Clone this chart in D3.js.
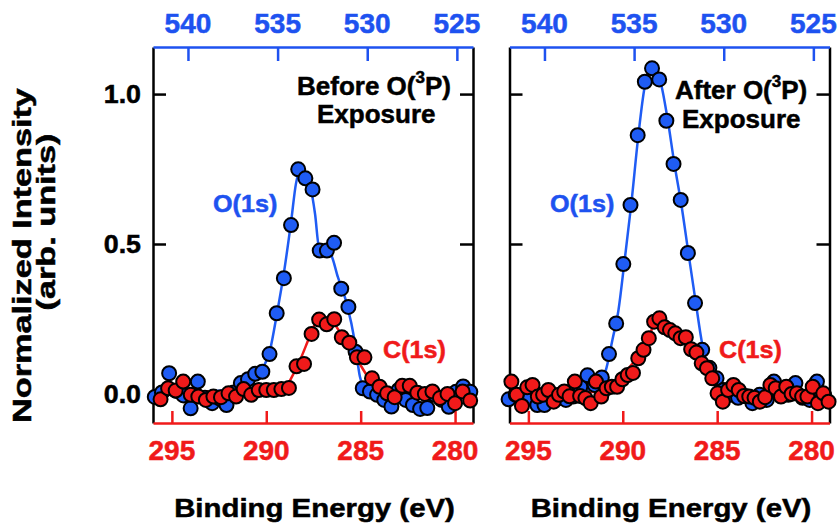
<!DOCTYPE html>
<html><head><meta charset="utf-8">
<script src="https://cdn.jsdelivr.net/npm/d3@7"></script>
<style>
html,body{margin:0;padding:0;background:#fff;}
svg{display:block;font-family:"Liberation Sans",Arial,Helvetica,sans-serif;font-weight:bold;}
</style>
</head><body>
<svg id="chart" width="838" height="523"></svg>
<script>
// ---------- DATA ----------
const bottomTicks = [295, 290, 285, 280];      // C(1s) binding energy (eV)
const topTicks = [540, 535, 530, 525];          // O(1s) energy axis
const yTicks = [0.0, 0.5, 1.0];

// Before exposure: O(1s) points (top axis)
const oEnergyBefore = [541.85,541.45,541.05,540.65,540.25,539.85,539.45,539.05,538.65,538.25,537.85,537.45,537.05,536.65,536.25,535.85,535.45,535.05,534.65,534.25,533.85,533.45,533.05,532.65,532.25,531.85,531.45,531.05,530.65,530.25,529.85,529.45,529.05,528.65,528.25,527.85,527.45,527.05,526.65,526.25,525.85,525.45,525.05,524.65,524.25];
const oIntensityBefore = [-0.01,0.005,0.069,0.01,-0.005,-0.048,0.041,-0.013,-0.031,-0.015,-0.037,0.005,0.036,0.049,0.067,0.074,0.133,0.269,0.386,0.563,0.749,0.719,0.682,0.478,0.478,0.504,0.351,0.29,0.141,0.019,0.008,-0.003,-0.02,-0.042,0.013,-0.02,-0.037,-0.05,-0.047,-0.003,-0.02,-0.043,0.007,0.025,0.007];
// Before exposure: C(1s) points (bottom axis)
const cEnergyBefore = [295.6,295.2,294.8,294.4,294.0,293.6,293.2,292.8,292.4,292.0,291.6,291.2,290.8,290.4,290.0,289.6,289.2,288.8,288.4,288.0,287.6,287.2,286.8,286.4,286.0,285.6,285.2,284.8,284.4,284.0,283.6,283.2,282.8,282.4,282.0,281.6,281.2,280.8,280.4,280.0,279.6,279.2];
const cIntensityBefore = [-0.018,0.019,0.011,0.041,-0.003,-0.009,-0.02,-0.009,-0.011,0.002,-0.009,0.016,-0.003,0.013,0.013,0.013,0.016,0.02,0.092,0.10,0.20,0.248,0.232,0.249,0.189,0.171,0.122,0.122,0.052,0.024,0.002,-0.011,0.027,0.027,0.004,0.0,0.008,-0.014,0.0,-0.031,0.008,-0.022];
// Before exposure: fitted curves
const oFitEnergyBefore = [541.95,537.66,536.65,535.87,535.42,535.03,534.64,534.25,533.97,533.75,533.47,533.19,532.91,532.69,532.36,532.03,531.64,531.15,530.68,530.41,530.07,529.74,524.1];
const oFitBefore = [0.003,0.013,0.037,0.08,0.147,0.27,0.407,0.573,0.703,0.747,0.737,0.697,0.6,0.49,0.478,0.465,0.39,0.303,0.17,0.058,0.013,0.003,0.003];
const cFitEnergyBefore = [296.0,289.27,288.96,288.74,288.32,287.84,287.53,287.26,287.0,286.68,286.36,286.04,285.72,285.35,284.98,284.62,284.24,283.87,283.45,279.05];
const cFitBefore = [0.007,0.01,0.02,0.045,0.097,0.17,0.22,0.245,0.25,0.245,0.23,0.2,0.17,0.13,0.093,0.057,0.03,0.013,0.003,0.003];

// After exposure: O(1s) points (top axis)
const oEnergyAfter = [542.0,541.6,541.2,540.8,540.4,540.0,539.6,539.2,538.8,538.4,538.0,537.6,537.2,536.8,536.4,536.0,535.6,535.2,534.8,534.4,534.0,533.6,533.2,532.8,532.4,532.0,531.6,531.2,530.8,530.4,530.0,529.6,529.2,528.8,528.4,528.0,527.6,527.2,526.8,526.4,526.0,525.6,525.2,524.8,524.4];
const oIntensityAfter = [-0.018,-0.003,-0.027,-0.013,-0.037,-0.037,-0.007,-0.013,-0.02,-0.009,0.024,0.062,0.03,0.055,0.133,0.235,0.433,0.63,0.863,1.041,1.086,1.049,0.911,0.767,0.647,0.47,0.303,0.147,0.087,0.052,0.013,-0.003,-0.013,-0.007,-0.031,-0.003,-0.02,0.041,-0.005,-0.003,0.036,-0.013,-0.02,0.041,-0.003];
// After exposure: C(1s) points (bottom axis)
const cEnergyAfter = [295.9,295.62,295.34,295.06,294.78,294.5,294.22,293.94,293.66,293.38,293.1,292.82,292.54,292.26,291.98,291.7,291.42,291.14,290.86,290.58,290.3,290.02,289.74,289.46,289.18,288.9,288.62,288.34,288.06,287.78,287.5,287.22,286.94,286.66,286.38,286.1,285.82,285.54,285.26,284.98,284.7,284.42,284.14,283.86,283.58,283.3,283.02,282.74,282.46,282.18,281.9,281.62,281.34,281.06,280.78,280.5,280.22,279.94,279.66,279.38,279.1];
const cIntensityAfter = [0.041,-0.003,-0.04,0.022,0.03,-0.009,-0.003,0.013,-0.026,-0.003,0.008,-0.008,0.041,-0.007,-0.014,-0.031,0.041,-0.009,0.019,0.024,0.024,0.049,0.063,0.07,0.119,0.147,0.186,0.241,0.252,0.222,0.213,0.202,0.186,0.189,0.149,0.138,0.102,0.086,0.052,0.002,-0.026,0.013,0.03,0.013,-0.007,-0.009,-0.013,-0.026,-0.011,0.03,0.019,-0.009,0.024,0.0,0.002,-0.009,-0.009,0.024,-0.031,0.002,-0.026];
// After exposure: fitted curves
const oFitEnergyAfter = [541.95,537.43,536.87,536.54,536.21,535.87,535.54,535.15,534.76,534.42,534.09,533.86,533.64,533.42,533.14,532.75,532.36,531.97,531.58,531.19,530.80,530.41,530.02,524.1];
const oFitAfter = [-0.003,0.013,0.037,0.087,0.18,0.28,0.44,0.637,0.863,1.02,1.08,1.087,1.067,1.013,0.92,0.767,0.63,0.47,0.313,0.163,0.073,0.02,0.003,0.0];
const cFitEnergyAfter = [296.0,291.18,290.54,290.12,289.59,289.06,288.64,288.27,287.90,287.47,286.94,286.41,285.88,285.35,284.93,284.40,279.05];
const cFitAfter = [0.003,0.007,0.027,0.053,0.093,0.14,0.193,0.233,0.243,0.227,0.2,0.163,0.113,0.06,0.023,0.007,0.003];

// ---------- STYLE / LAYOUT ----------
const BLUE = "#1e52f0", BLUE_DOT = "#1f5cf4", RED = "#f01a1a", BLACK = "#000";
const svg = d3.select("#chart");
const yTop = 47, yBot = 423;

const y = d3.scaleLinear().domain([-0.097, 1.157]).range([yBot, yTop]);

function label(parent, txt, x, yy, size, sx, color, anchor, rotate) {
  const g = parent.append("g").attr("transform",
    `translate(${x},${yy})` + (rotate ? ` rotate(${rotate})` : "") + ` scale(${sx},1)`);
  g.append("text").attr("text-anchor", anchor || "middle").attr("font-size", size)
    .attr("fill", color).attr("stroke", color).attr("stroke-width", 0.5).text(txt);
  return g;
}

const panels = [
  { x0: 153, x1: 473, oE: oEnergyBefore, oI: oIntensityBefore, cE: cEnergyBefore, cI: cIntensityBefore,
    ofE: oFitEnergyBefore, ofI: oFitBefore, cfE: cFitEnergyBefore, cfI: cFitBefore, yLabels: true,
    title: ["Before O(", "P)"], t1: [297, 95], t2: [317, 123],
    oLab: [213, 212], cLab: [383, 358] },
  { x0: 509.5, x1: 829.5, oE: oEnergyAfter, oI: oIntensityAfter, cE: cEnergyAfter, cI: cIntensityAfter,
    ofE: oFitEnergyAfter, ofI: oFitAfter, cfE: cFitEnergyAfter, cfI: cFitAfter, yLabels: false,
    title: ["After O(", "P)"], t1: [675, 99], t2: [682, 128],
    oLab: [550, 212], cLab: [719, 358] }
];

panels.forEach(p => {
  const xb = d3.scaleLinear().domain([296.0, 279.05]).range([p.x0, p.x1]);
  const xt = d3.scaleLinear().domain([541.95, 524.1]).range([p.x0, p.x1]);
  const g = svg.append("g");

  // frame: left/right black axes
  const axL = g.append("g").attr("transform", `translate(${p.x0},0)`)
    .call(d3.axisLeft(y).tickValues(yTicks).tickSize(-13).tickSizeOuter(0).tickPadding(11)
      .tickFormat(() => ""));
  axL.select(".domain").attr("stroke", BLACK).attr("stroke-width", 2.5);
  axL.selectAll(".tick line").attr("stroke", BLACK).attr("stroke-width", 2.5);
  if (p.yLabels) {
    yTicks.forEach(v => label(svg, d3.format(".1f")(v), 141, y(v) + 9, 25.5, 1.05, BLACK, "end"));
  }
  const axR = g.append("g").attr("transform", `translate(${p.x1},0)`)
    .call(d3.axisRight(y).tickValues(yTicks).tickSize(-13).tickSizeOuter(0).tickFormat(() => ""));
  axR.select(".domain").attr("stroke", BLACK).attr("stroke-width", 2.5);
  axR.selectAll(".tick line").attr("stroke", BLACK).attr("stroke-width", 2.5);

  // bottom red axis
  const axB = g.append("g").attr("transform", `translate(0,${yBot})`)
    .call(d3.axisBottom(xb).tickValues(bottomTicks).tickSize(-12).tickSizeOuter(0).tickFormat(() => ""));
  axB.select(".domain").attr("stroke", RED).attr("stroke-width", 2.5);
  axB.selectAll(".tick line").attr("stroke", RED).attr("stroke-width", 2.5);
  bottomTicks.forEach(v => label(svg, String(v), xb(v), 460, 28, 1, RED, "middle"));

  // top blue axis
  const axT = g.append("g").attr("transform", `translate(0,${yTop})`)
    .call(d3.axisTop(xt).tickValues(topTicks).tickSize(-14).tickSizeOuter(0).tickFormat(() => ""));
  axT.select(".domain").attr("stroke", BLUE).attr("stroke-width", 2.5);
  axT.selectAll(".tick line").attr("stroke", BLUE).attr("stroke-width", 2.5);
  topTicks.forEach(v => label(svg, String(v), xt(v), 33, 28, 1, BLUE, "middle"));

  // fits
  const oLine = d3.line().x((d, i) => xt(p.ofE[i])).y(d => y(d)).curve(d3.curveMonotoneX);
  const cLine = d3.line().x((d, i) => xb(p.cfE[i])).y(d => y(d)).curve(d3.curveMonotoneX);
  g.append("path").attr("d", oLine(p.ofI)).attr("fill", "none").attr("stroke", BLUE_DOT).attr("stroke-width", 2.5);
  g.append("path").attr("d", cLine(p.cfI)).attr("fill", "none").attr("stroke", RED).attr("stroke-width", 2.5);

  // markers
  g.append("g").selectAll("circle").data(p.oI).join("circle")
    .attr("cx", (d, i) => xt(p.oE[i])).attr("cy", d => y(d)).attr("r", 7)
    .attr("fill", BLUE_DOT).attr("stroke", BLACK).attr("stroke-width", 2);
  g.append("g").selectAll("circle").data(p.cI).join("circle")
    .attr("cx", (d, i) => xb(p.cE[i])).attr("cy", d => y(d)).attr("r", 7)
    .attr("fill", RED).attr("stroke", BLACK).attr("stroke-width", 2);

  // labels
  label(svg, "O(1s)", p.oLab[0], p.oLab[1], 23.5, 1.07, BLUE, "start");
  label(svg, "C(1s)", p.cLab[0], p.cLab[1], 23.5, 1.07, RED, "start");

  const tg = svg.append("text").attr("x", p.t1[0]).attr("y", p.t1[1]).attr("font-size", 26)
    .attr("fill", BLACK).attr("stroke", BLACK).attr("stroke-width", 0.5);
  tg.append("tspan").text(p.title[0]);
  tg.append("tspan").attr("font-size", 17).attr("dy", -12).text("3");
  tg.append("tspan").attr("dy", 12).text(p.title[1]);
  svg.append("text").attr("x", p.t2[0]).attr("y", p.t2[1]).attr("font-size", 26)
    .attr("fill", BLACK).attr("stroke", BLACK).attr("stroke-width", 0.5).text("Exposure");

  // x title
  label(svg, "Binding Energy (eV)", (p.x0 + p.x1) / 2 + 1.5, 517, 26, 1.13, BLACK, "middle");
});

// y title
label(svg, "Normalized Intensity", 31, 255.5, 25, 1.37, BLACK, "middle", -90);
label(svg, "(arb. units)", 55, 222, 25, 1.37, BLACK, "middle", -90);
</script>
</body></html>
